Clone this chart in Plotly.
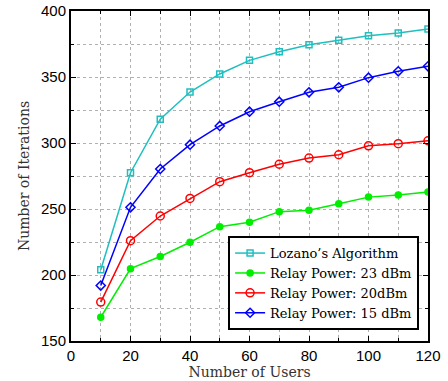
import plotly.graph_objects as go

users = [10, 20, 30, 40, 50, 60, 70, 80, 90, 100, 110, 120]
lozano = [204, 277.5, 318, 338.6, 352.3, 362.6, 369.2, 374.5, 377.8, 381.3, 383.3, 386.4]
relay23 = [168, 204.8, 214, 224.8, 236.6, 240, 248, 249, 254, 259, 260.6, 262.9]
relay20 = [179.5, 226, 244.7, 258, 270.7, 277.5, 283.9, 288.6, 291.1, 297.9, 299.5, 301.7]
relay15 = [192, 251.3, 280.3, 298.7, 312.9, 323.7, 331.3, 338.4, 342.2, 349.5, 354.3, 358.1]

series = [
    ("Lozano\u2019s Algorithm", lozano, "#1fbfbf", "square-open", 6),
    ("Relay Power: 23 dBm", relay23, "#00ee00", "circle", 6),
    ("Relay Power: 20dBm", relay20, "#ff0000", "circle-open", 8),
    ("Relay Power: 15 dBm", relay15, "#0000ff", "diamond-open", 7),
]

fig = go.Figure()
for name, vals, col, sym, sz in series:
    fig.add_trace(go.Scatter(
        x=users, y=vals, name=name, mode="lines+markers",
        line=dict(color=col, width=1.5),
        marker=dict(symbol=sym, size=sz, color=col, line=dict(color=col, width=1.5)),
    ))

axis_common = dict(
    showline=True, linecolor="black", linewidth=2, mirror="allticks",
    ticks="inside", ticklen=5, tickcolor="black", tickwidth=1,
    showgrid=True, gridcolor="#b0b0b0", griddash="dot", gridwidth=1,
    zeroline=False, automargin=False,
    tickfont=dict(family="Liberation Sans, Arial", size=15, color="black"),
)

title_font = dict(family="DejaVu Serif, Liberation Serif", size=14, color="#333")

fig.update_xaxes(
    range=[0, 120], dtick=20, tick0=0,
    minor=dict(dtick=10, showgrid=True, gridcolor="#b0b0b0", griddash="dot",
               ticks="inside", ticklen=3, tickcolor="black"),
    title=dict(text="Number of Users", standoff=0, font=title_font),
    **axis_common,
)
fig.update_yaxes(
    range=[150, 400], dtick=50, tick0=150,
    minor=dict(dtick=25, showgrid=True, gridcolor="#b0b0b0", griddash="dot",
               ticks="inside", ticklen=3, tickcolor="black"),
    title=dict(text="Number of Iterations", standoff=8, font=title_font),
    **axis_common,
)

fig.update_layout(
    width=448, height=381,
    margin=dict(l=71, r=20, t=11, b=40),
    plot_bgcolor="white", paper_bgcolor="white",
    showlegend=True,
    legend=dict(
        x=0.975, y=0.033, xanchor="right", yanchor="bottom",
        bgcolor="white", bordercolor="black", borderwidth=2,
        font=dict(family="DejaVu Serif, Liberation Serif", size=13, color="black"),
        tracegroupgap=0, itemwidth=30,
    ),
)

fig.write_html("out.html", config={"displayModeBar": False},
               post_script="document.body.style.margin='0';document.body.style.overflow='hidden';")
